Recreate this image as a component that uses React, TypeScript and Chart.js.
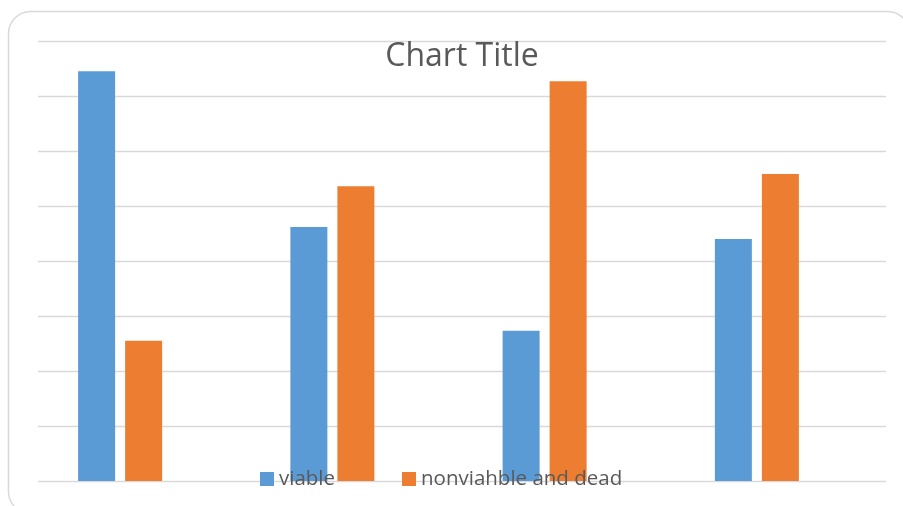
import React, { useEffect, useRef } from "react";
import { Chart, registerables } from "chart.js";

Chart.register(...registerables);

const categories = ["1", "2", "3", "4"];
const viable = [74.5, 46.2, 27.3, 44.0];
const nonviable = [25.5, 53.6, 72.7, 55.8];
const seriesNames = ["viable", "nonviahble and dead"];
const yMax = 80;
const yStep = 10;
const titleText = "Chart Title";

const BLUE = "#5b9bd5";
const ORANGE = "#ed7d31";
const TEXT = "#595959";
const GRID = "#d9d9d9";
const FONT = "'Open Sans', 'Noto Sans', sans-serif";

const decor = {
  id: "decor",
  beforeDraw(chart: any) {
    const { ctx } = chart;
    ctx.save();
    // rounded frame
    ctx.strokeStyle = GRID;
    ctx.lineWidth = 1.5;
    ctx.beginPath();
    (ctx as any).roundRect(8.5, 11.5, 901, 502, 22);
    ctx.stroke();
    // gridlines from y scale ticks
    const y = chart.scales.y;
    ctx.strokeStyle = GRID;
    ctx.lineWidth = 1.5;
    for (let v = 0; v <= yMax; v += yStep) {
      const py = Math.round(y.getPixelForValue(v)) + 0.5;
      ctx.beginPath();
      ctx.moveTo(38, py);
      ctx.lineTo(886, py);
      ctx.stroke();
    }
    ctx.restore();
  },
  afterDraw(chart: any) {
    const { ctx } = chart;
    ctx.save();
    // title
    ctx.fillStyle = TEXT;
    ctx.font = `32px ${FONT}`;
    ctx.textAlign = "center";
    ctx.textBaseline = "alphabetic";
    ctx.fillText(titleText, 462, 66);
    // legend
    ctx.font = `20.5px ${FONT}`;
    ctx.textAlign = "left";
    ctx.textBaseline = "middle";
    const colors = [BLUE, ORANGE];
    const xs = [260, 402];
    seriesNames.forEach((name, i) => {
      ctx.fillStyle = colors[i];
      ctx.fillRect(xs[i], 472, 14, 14);
      ctx.fillStyle = TEXT;
      ctx.fillText(name, xs[i] + 19, 479);
    });
    ctx.restore();
  },
};

export default function App() {
  const ref = useRef<HTMLCanvasElement>(null);
  useEffect(() => {
    const chart = new Chart(ref.current!, {
      type: "bar",
      data: {
        labels: categories,
        datasets: [
          {
            label: seriesNames[0],
            data: viable,
            backgroundColor: BLUE,
            borderWidth: 0,
            categoryPercentage: 0.443,
            barPercentage: 0.787,
          },
          {
            label: seriesNames[1],
            data: nonviable,
            backgroundColor: ORANGE,
            borderWidth: 0,
            categoryPercentage: 0.443,
            barPercentage: 0.787,
          },
        ],
      },
      options: {
        animation: false,
        responsive: false,
        maintainAspectRatio: false,
        layout: { padding: { left: 6, right: 40, top: 41, bottom: 17 } },
        plugins: {
          legend: { display: false },
          title: { display: false },
          tooltip: { enabled: false },
        },
        scales: {
          x: {
            ticks: { display: false },
            grid: { display: false },
            border: { display: false },
          },
          y: {
            min: 0,
            max: yMax,
            ticks: { display: false, stepSize: yStep },
            grid: { display: false },
            border: { display: false },
          },
        },
      },
      plugins: [decor],
    });
    return () => chart.destroy();
  }, []);
  return (
    <div style={{ position: "fixed", left: 0, top: 0, width: 903, height: 506, background: "#fff" }}>
      <canvas ref={ref} width={903} height={506} style={{ display: "block" }} />
    </div>
  );
}
